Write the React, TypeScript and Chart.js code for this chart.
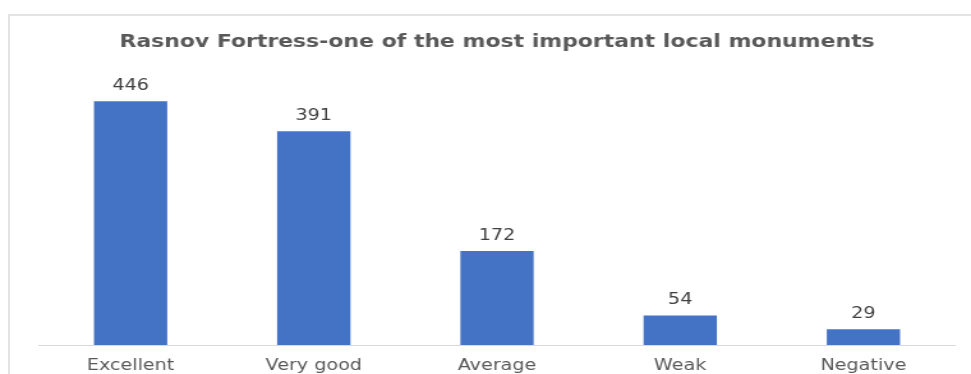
import React, { useEffect, useRef } from "react";
import { Chart, registerables } from "chart.js";

Chart.register(...registerables);

const categories = ["Excellent", "Very good", "Average", "Weak", "Negative"];
const responses = [446, 391, 172, 54, 29];
const titleText = "Rasnov Fortress-one of the most important local monuments";
const axisMax = 500;

const FONT = "'DejaVu Sans', sans-serif";
const INTERNAL_W = 760;
const VIEW_H = 374;
const CANVAS_H = 387;

const valueLabels = {
  id: "valueLabels",
  afterDatasetsDraw(chart: any) {
    const ctx = chart.ctx;
    const meta = chart.getDatasetMeta(0);
    const data = chart.data.datasets[0].data;
    ctx.save();
    ctx.font = `15px ${FONT}`;
    ctx.fillStyle = "#404040";
    ctx.textAlign = "center";
    ctx.textBaseline = "middle";
    meta.data.forEach((el: any, i: number) => {
      ctx.fillText(String(data[i]), el.x, el.y - 15);
    });
    ctx.restore();
  },
};

export default function App() {
  const ref = useRef<HTMLCanvasElement | null>(null);
  useEffect(() => {
    if (!ref.current) return;
    const chart = new Chart(ref.current, {
      type: "bar",
      data: {
        labels: categories,
        datasets: [
          {
            data: responses,
            backgroundColor: "#4472C4",
            categoryPercentage: 1,
            barPercentage: 0.4,
          },
        ],
      },
      options: {
        responsive: false,
        animation: false,
        devicePixelRatio: 1,
        layout: { padding: { left: 30.5, right: 12.5, top: 0, bottom: 0 } },
        plugins: {
          legend: { display: false },
          tooltip: { enabled: false },
          title: {
            display: true,
            text: titleText,
            color: "#595959",
            font: { family: FONT, size: 17.2, weight: "bold", lineHeight: 1.2 },
            padding: { top: 32, bottom: 19 },
          },
        },
        scales: {
          x: {
            grid: { display: false, drawTicks: false },
            border: { display: true, color: "#d9d9d9", width: 1 },
            ticks: {
              color: "#595959",
              padding: 12,
              font: { family: FONT, size: 15, lineHeight: 1.2 },
              maxRotation: 0,
            },
          },
          y: {
            display: false,
            min: 0,
            max: axisMax,
          },
        },
      },
      plugins: [valueLabels],
    });
    return () => chart.destroy();
  }, []);

  return (
    <div style={{ position: "absolute", left: 0, top: 0, width: 971, height: VIEW_H, overflow: "hidden", background: "#fff" }}>
      <div
        style={{
          position: "absolute",
          left: 8,
          top: 14,
          width: 963,
          height: VIEW_H - 14,
          boxSizing: "border-box",
          borderTop: "2px solid #e3e3e3",
          borderLeft: "2px solid #e3e3e3",
        }}
      />
      <canvas
        ref={ref}
        width={INTERNAL_W}
        height={CANVAS_H}
        style={{ position: "absolute", left: 0, top: 0, width: "971px", height: CANVAS_H + "px", display: "block" }}
      />
    </div>
  );
}
